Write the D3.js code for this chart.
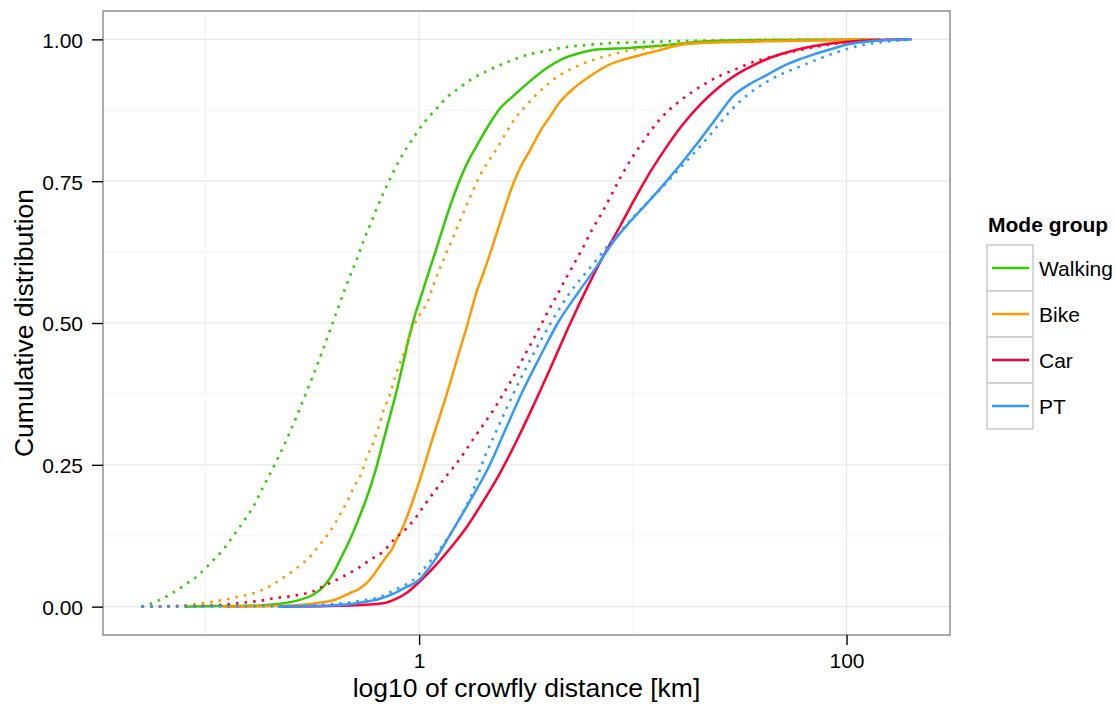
<!DOCTYPE html>
<html>
<head>
<meta charset="utf-8">
<script src="https://cdn.jsdelivr.net/npm/d3@7"></script>
<style>
  body { margin: 0; background: #fff; }
  svg { display: block; font-family: "Liberation Sans", Arial, Helvetica, sans-serif; }
</style>
</head>
<body>
<svg id="chart" width="1116" height="704"></svg>
<script>
// Mode groups and their colours
const modes = ["Walking", "Bike", "Car", "PT"];
const modeColors = ["#33CC00", "#FF9900", "#FF0033", "#3399FF"];

// Empirical cumulative distributions: [log10 of distance in km, cumulative share]
// Solid = observed trips, dotted = comparison set
const walkingSolid = [[-1.096,0],[-0.919,0.001],[-0.745,0.002],[-0.652,0.005],[-0.558,0.012],[-0.496,0.021],[-0.441,0.038],[-0.402,0.059],[-0.363,0.088],[-0.324,0.118],[-0.285,0.153],[-0.246,0.191],[-0.208,0.235],[-0.168,0.291],[-0.137,0.335],[-0.106,0.379],[-0.075,0.429],[-0.044,0.479],[-0.017,0.517],[0.003,0.540],[0.035,0.578],[0.073,0.622],[0.112,0.668],[0.144,0.705],[0.183,0.745],[0.229,0.785],[0.269,0.812],[0.315,0.842],[0.374,0.876],[0.440,0.900],[0.518,0.926],[0.596,0.949],[0.674,0.966],[0.752,0.976],[0.830,0.982],[0.986,0.985],[1.142,0.989],[1.314,0.996],[1.594,0.999],[2.109,1.0]];
const walkingDotted = [[-1.299,0],[-1.256,0.005],[-1.218,0.011],[-1.182,0.018],[-1.151,0.025],[-1.117,0.033],[-1.086,0.041],[-1.054,0.049],[-1.026,0.058],[-0.998,0.068],[-0.973,0.078],[-0.947,0.088],[-0.920,0.099],[-0.898,0.110],[-0.854,0.133],[-0.811,0.156],[-0.770,0.180],[-0.735,0.207],[-0.699,0.233],[-0.663,0.260],[-0.630,0.286],[-0.597,0.314],[-0.566,0.342],[-0.535,0.371],[-0.504,0.400],[-0.475,0.428],[-0.446,0.457],[-0.418,0.486],[-0.376,0.530],[-0.348,0.559],[-0.318,0.588],[-0.288,0.616],[-0.260,0.645],[-0.229,0.673],[-0.199,0.701],[-0.167,0.729],[-0.134,0.756],[-0.098,0.783],[-0.059,0.808],[-0.017,0.832],[0.027,0.855],[0.077,0.876],[0.128,0.897],[0.187,0.914],[0.250,0.931],[0.317,0.944],[0.432,0.963],[0.510,0.973],[0.596,0.980],[0.682,0.986],[0.783,0.990],[0.884,0.993],[1.033,0.995],[1.220,0.997],[1.600,0.999],[2.109,1.0]];
const bikeSolid = [[-0.919,0],[-0.667,0.001],[-0.480,0.006],[-0.387,0.013],[-0.324,0.024],[-0.277,0.032],[-0.239,0.044],[-0.207,0.059],[-0.176,0.076],[-0.153,0.088],[-0.129,0.100],[-0.106,0.118],[-0.082,0.135],[-0.059,0.156],[-0.028,0.188],[0.003,0.223],[0.035,0.262],[0.066,0.300],[0.097,0.336],[0.128,0.373],[0.159,0.412],[0.190,0.452],[0.222,0.492],[0.245,0.523],[0.269,0.555],[0.299,0.586],[0.331,0.621],[0.360,0.655],[0.390,0.690],[0.418,0.722],[0.445,0.750],[0.479,0.778],[0.518,0.804],[0.565,0.837],[0.611,0.863],[0.658,0.889],[0.721,0.913],[0.799,0.935],[0.892,0.956],[0.955,0.964],[1.033,0.972],[1.127,0.981],[1.220,0.990],[1.345,0.994],[1.688,0.997],[2.015,0.999],[2.156,1.0]];
const bikeDotted = [[-1.299,0],[-1.167,0.001],[-1.029,0.005],[-0.941,0.010],[-0.852,0.017],[-0.766,0.025],[-0.694,0.037],[-0.628,0.053],[-0.566,0.070],[-0.511,0.088],[-0.465,0.109],[-0.418,0.132],[-0.379,0.156],[-0.340,0.183],[-0.306,0.210],[-0.270,0.235],[-0.246,0.262],[-0.215,0.288],[-0.192,0.314],[-0.168,0.344],[-0.137,0.373],[-0.114,0.403],[-0.090,0.429],[-0.067,0.452],[-0.044,0.479],[-0.020,0.499],[0.003,0.515],[0.039,0.537],[0.066,0.566],[0.097,0.596],[0.128,0.624],[0.159,0.651],[0.190,0.679],[0.222,0.707],[0.253,0.734],[0.289,0.763],[0.328,0.787],[0.370,0.811],[0.409,0.837],[0.448,0.860],[0.495,0.881],[0.542,0.900],[0.596,0.919],[0.658,0.937],[0.729,0.951],[0.807,0.963],[0.892,0.972],[0.986,0.981],[1.095,0.986],[1.220,0.992],[1.376,0.995],[1.688,0.999],[2.156,1.0]];
const carSolid = [[-0.652,0],[-0.324,0.002],[-0.168,0.006],[-0.106,0.014],[-0.059,0.024],[-0.001,0.043],[0.073,0.071],[0.144,0.102],[0.222,0.140],[0.299,0.185],[0.378,0.235],[0.456,0.292],[0.533,0.353],[0.621,0.426],[0.708,0.500],[0.790,0.565],[0.865,0.620],[0.935,0.667],[0.995,0.709],[1.065,0.756],[1.150,0.806],[1.230,0.848],[1.313,0.884],[1.392,0.912],[1.469,0.934],[1.547,0.951],[1.626,0.965],[1.703,0.975],[1.781,0.983],[1.937,0.993],[2.094,0.998],[2.304,1.0]];
const carDotted = [[-1.299,0],[-1.073,0.001],[-0.925,0.003],[-0.826,0.007],[-0.730,0.011],[-0.675,0.015],[-0.590,0.019],[-0.504,0.026],[-0.426,0.040],[-0.356,0.053],[-0.285,0.068],[-0.223,0.084],[-0.168,0.097],[-0.118,0.118],[-0.059,0.138],[-0.012,0.159],[0.031,0.182],[0.078,0.206],[0.125,0.229],[0.170,0.250],[0.214,0.273],[0.256,0.297],[0.299,0.320],[0.343,0.344],[0.381,0.367],[0.421,0.392],[0.459,0.418],[0.495,0.444],[0.533,0.470],[0.569,0.496],[0.607,0.523],[0.645,0.549],[0.682,0.575],[0.720,0.601],[0.760,0.628],[0.807,0.663],[0.854,0.693],[0.900,0.726],[0.947,0.760],[0.994,0.790],[1.041,0.816],[1.090,0.842],[1.146,0.867],[1.212,0.889],[1.277,0.907],[1.352,0.925],[1.415,0.937],[1.485,0.948],[1.555,0.959],[1.626,0.967],[1.781,0.981],[1.937,0.992],[2.094,0.998],[2.304,1.0]];
const ptSolid = [[-0.660,0],[-0.418,0.002],[-0.277,0.007],[-0.184,0.014],[-0.114,0.024],[-0.068,0.033],[-0.001,0.047],[0.073,0.082],[0.144,0.126],[0.222,0.176],[0.331,0.250],[0.406,0.314],[0.481,0.377],[0.565,0.440],[0.649,0.500],[0.743,0.553],[0.830,0.599],[0.908,0.643],[0.986,0.678],[1.064,0.710],[1.142,0.743],[1.220,0.778],[1.298,0.815],[1.392,0.862],[1.469,0.900],[1.547,0.921],[1.626,0.937],[1.703,0.953],[1.781,0.965],[1.860,0.975],[1.937,0.984],[2.015,0.992],[2.094,0.996],[2.304,1.0]];
const ptDotted = [[-1.299,0],[-0.661,0.001],[-0.418,0.004],[-0.262,0.011],[-0.184,0.017],[-0.106,0.031],[-0.067,0.038],[-0.028,0.047],[0.011,0.062],[0.050,0.079],[0.089,0.097],[0.128,0.118],[0.167,0.141],[0.206,0.167],[0.245,0.197],[0.293,0.250],[0.368,0.315],[0.443,0.377],[0.527,0.440],[0.616,0.500],[0.705,0.553],[0.799,0.597],[0.906,0.646],[0.986,0.680],[1.064,0.711],[1.142,0.741],[1.220,0.773],[1.298,0.804],[1.376,0.838],[1.462,0.876],[1.547,0.905],[1.626,0.925],[1.703,0.940],[1.781,0.952],[1.860,0.964],[1.937,0.975],[2.062,0.989],[2.140,0.994],[2.218,0.997],[2.304,1.0]];

// Axis breaks
const xMajor = [1, 100];
const xMinor = [0.1, 10];
const yMajor = [0, 0.25, 0.5, 0.75, 1];
const yMinor = [0.125, 0.375, 0.625, 0.875];

const xTitle = "log10 of crowfly distance [km]";
const yTitle = "Cumulative distribution";
const legendTitle = "Mode group";

const curves = [
  { mode: "Walking", dash: false, pts: walkingSolid },
  { mode: "Walking", dash: true,  pts: walkingDotted },
  { mode: "Bike",    dash: false, pts: bikeSolid },
  { mode: "Bike",    dash: true,  pts: bikeDotted },
  { mode: "Car",     dash: false, pts: carSolid },
  { mode: "Car",     dash: true,  pts: carDotted },
  { mode: "PT",      dash: false, pts: ptSolid },
  { mode: "PT",      dash: true,  pts: ptDotted }
];

const color = d3.scaleOrdinal().domain(modes).range(modeColors);

const panel = { left: 103, right: 950, top: 11, bottom: 635 };
const tickFont = 21;
const titleFont = 26.5;

// log-scale x with 5% padding on each side of the data range (in log space)
const allLog = curves.flatMap(c => c.pts.map(p => p[0]));
const lo = d3.min(allLog), hi = d3.max(allLog);
const pad = (hi - lo) * 0.05;
const x = d3.scaleLog()
  .domain([Math.pow(10, lo - pad), Math.pow(10, hi + pad)])
  .range([panel.left, panel.right]);
const y = d3.scaleLinear()
  .domain([-0.05, 1.05])
  .range([panel.bottom, panel.top]);

const svg = d3.select("#chart");
svg.append("rect").attr("width", 1116).attr("height", 704).attr("fill", "#fff");

// grid
const grid = svg.append("g");
grid.selectAll("line.ymin").data(yMinor).join("line")
  .attr("x1", panel.left).attr("x2", panel.right)
  .attr("y1", d => y(d)).attr("y2", d => y(d))
  .attr("stroke", "#f5f5f5").attr("stroke-width", 1.1);
grid.selectAll("line.xmin").data(xMinor).join("line")
  .attr("y1", panel.top).attr("y2", panel.bottom)
  .attr("x1", d => x(d)).attr("x2", d => x(d))
  .attr("stroke", "#f5f5f5").attr("stroke-width", 1.1);
grid.selectAll("line.ymaj").data(yMajor).join("line")
  .attr("x1", panel.left).attr("x2", panel.right)
  .attr("y1", d => y(d)).attr("y2", d => y(d))
  .attr("stroke", "#e8e8e8").attr("stroke-width", 1.2);
grid.selectAll("line.xmaj").data(xMajor).join("line")
  .attr("y1", panel.top).attr("y2", panel.bottom)
  .attr("x1", d => x(d)).attr("x2", d => x(d))
  .attr("stroke", "#e8e8e8").attr("stroke-width", 1.2);

// curves
const line = d3.line()
  .x(d => x(Math.pow(10, d[0])))
  .y(d => y(d[1]))
  .curve(d3.curveMonotoneX);

svg.append("g").selectAll("path").data(curves).join("path")
  .attr("d", d => line(d.pts))
  .attr("fill", "none")
  .attr("stroke", d => color(d.mode))
  .attr("stroke-width", d => d.dash ? 2.6 : 2.5)
  .attr("stroke-linecap", "butt")
  .attr("stroke-dasharray", d => d.dash ? "2.6 6" : null);

// panel border
svg.append("rect")
  .attr("x", panel.left).attr("y", panel.top)
  .attr("width", panel.right - panel.left).attr("height", panel.bottom - panel.top)
  .attr("fill", "none").attr("stroke", "#7f7f7f").attr("stroke-width", 1.3);

// axes
const yAxis = d3.axisLeft(y).tickValues(yMajor).tickFormat(d3.format(".2f"))
  .tickSize(11).tickPadding(9);
const gy = svg.append("g").attr("transform", `translate(${panel.left},0)`).call(yAxis);
const xAxis = d3.axisBottom(x).tickValues(xMajor).tickFormat(d3.format("d"))
  .tickSize(10).tickPadding(8);
const gx = svg.append("g").attr("transform", `translate(0,${panel.bottom})`).call(xAxis);
[gx, gy].forEach(g => {
  g.select(".domain").remove();
  g.selectAll(".tick line").attr("stroke", "#000").attr("stroke-width", 1.4);
  g.selectAll(".tick text").attr("fill", "#000").attr("font-size", tickFont)
    .attr("font-family", '"Liberation Sans", Arial, sans-serif');
});
gy.selectAll(".tick text").attr("dy", "0.38em");

// axis titles
svg.append("text")
  .attr("x", (panel.left + panel.right) / 2).attr("y", 697)
  .attr("text-anchor", "middle").attr("font-size", titleFont).attr("fill", "#000")
  .text(xTitle);
svg.append("text")
  .attr("transform", `translate(33,${(panel.top + panel.bottom) / 2}) rotate(-90)`)
  .attr("text-anchor", "middle").attr("font-size", titleFont).attr("fill", "#000")
  .text(yTitle);

// legend
const legend = svg.append("g").attr("transform", "translate(987,0)");
legend.append("text")
  .attr("x", 1).attr("y", 232)
  .attr("font-size", tickFont).attr("font-weight", "bold").attr("fill", "#000")
  .text(legendTitle);
const keySize = 46;
const keys = legend.selectAll("g.key").data(modes).join("g")
  .attr("transform", (d, i) => `translate(0,${245 + i * keySize})`);
keys.append("rect")
  .attr("width", keySize).attr("height", keySize)
  .attr("fill", "#fff").attr("stroke", "#cccccc").attr("stroke-width", 1.6);
keys.append("line")
  .attr("x1", 5).attr("x2", 42)
  .attr("y1", keySize / 2).attr("y2", keySize / 2)
  .attr("stroke", d => color(d)).attr("stroke-width", 2.5);
keys.append("text")
  .attr("x", 52).attr("y", keySize / 2 + 7.5)
  .attr("font-size", tickFont).attr("fill", "#000")
  .text(d => d);
</script>
</body>
</html>
